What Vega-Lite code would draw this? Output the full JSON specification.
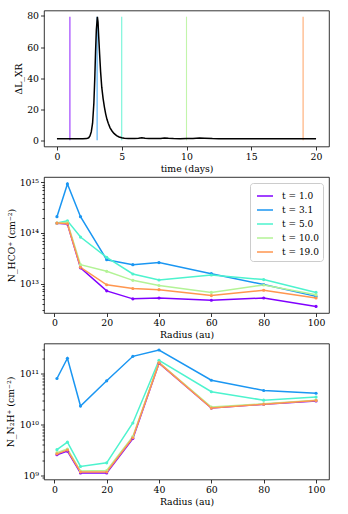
{
  "$schema": "https://vega.github.io/schema/vega-lite/v6.json",
  "background": "white",
  "padding": {"left": 5, "top": 9.5, "right": 0, "bottom": 0},
  "autosize": {"type": "pad"},
  "spacing": 30.5,
  "bounds": "flush",
  "resolve": {"legend": {"color": "independent"}},
  "config": {
    "font": "DejaVu Serif",
    "view": {"stroke": "black", "strokeWidth": 0.8},
    "style": {"guide-title": {"fontWeight": "normal", "font": "DejaVu Serif"}, "guide-label": {"font": "DejaVu Serif"}},
    "axis": {
      "labelFont": "DejaVu Serif", "titleFont": "DejaVu Serif",
      "labelFontSize": 9.3, "titleFontSize": 9.3, "titleFontWeight": "normal",
      "labelColor": "black", "titleColor": "black", "tickColor": "black",
      "domain": false, "grid": false, "tickSize": 3.5, "tickWidth": 0.8,
      "labelPadding": 2, "titlePadding": 3
    },
    "legend": {
      "labelFont": "DejaVu Serif", "labelColor": "black"
    }
  },
  "datasets": {
    "flares": [
      {"t": 1.0}, {"t": 3.1}, {"t": 5.0}, {"t": 10.0}, {"t": 19.0}
    ],
    "lc": [
      {"time": 0, "dL": 1.0}, {"time": 0.5, "dL": 1.0}, {"time": 1.0, "dL": 1.0}, {"time": 1.5, "dL": 1.0},
      {"time": 2.0, "dL": 1.0}, {"time": 2.3, "dL": 1.1}, {"time": 2.45, "dL": 1.6}, {"time": 2.55, "dL": 2.8},
      {"time": 2.65, "dL": 5.5}, {"time": 2.75, "dL": 11}, {"time": 2.85, "dL": 24}, {"time": 2.92, "dL": 40},
      {"time": 2.98, "dL": 57}, {"time": 3.04, "dL": 71}, {"time": 3.12, "dL": 79.5}, {"time": 3.17, "dL": 76},
      {"time": 3.22, "dL": 67}, {"time": 3.29, "dL": 56}, {"time": 3.37, "dL": 44}, {"time": 3.46, "dL": 34},
      {"time": 3.56, "dL": 27}, {"time": 3.66, "dL": 21.5}, {"time": 3.76, "dL": 17}, {"time": 3.86, "dL": 13.5},
      {"time": 3.96, "dL": 11}, {"time": 4.1, "dL": 8}, {"time": 4.25, "dL": 6}, {"time": 4.4, "dL": 4.4},
      {"time": 4.6, "dL": 3}, {"time": 4.8, "dL": 2.1}, {"time": 5.0, "dL": 1.6}, {"time": 5.2, "dL": 1.3},
      {"time": 5.5, "dL": 1.15}, {"time": 6.0, "dL": 1.15}, {"time": 6.3, "dL": 1.3}, {"time": 6.55, "dL": 1.7},
      {"time": 6.8, "dL": 1.35}, {"time": 7.1, "dL": 1.15}, {"time": 7.6, "dL": 1.1}, {"time": 8.0, "dL": 1.2},
      {"time": 8.3, "dL": 1.5}, {"time": 8.6, "dL": 1.25}, {"time": 9.0, "dL": 1.1}, {"time": 9.5, "dL": 1.05},
      {"time": 10.0, "dL": 1.1}, {"time": 10.5, "dL": 1.15}, {"time": 11.0, "dL": 1.45}, {"time": 11.4, "dL": 1.3},
      {"time": 12.0, "dL": 1.1}, {"time": 12.5, "dL": 1.05}, {"time": 13, "dL": 1.0}, {"time": 14, "dL": 1.05},
      {"time": 15, "dL": 1.0}, {"time": 16, "dL": 1.05}, {"time": 17, "dL": 1.0}, {"time": 18, "dL": 1.0},
      {"time": 19, "dL": 1.0}, {"time": 20, "dL": 1.0}
    ],
    "cd": [
      {"species": "HCO+", "t": 1.0, "R": 1, "N": 1.55e14}, {"species": "HCO+", "t": 1.0, "R": 5, "N": 1.5e14},
      {"species": "HCO+", "t": 1.0, "R": 10, "N": 2.05e13}, {"species": "HCO+", "t": 1.0, "R": 20, "N": 7.2e12},
      {"species": "HCO+", "t": 1.0, "R": 30, "N": 5.0e12}, {"species": "HCO+", "t": 1.0, "R": 40, "N": 5.2e12},
      {"species": "HCO+", "t": 1.0, "R": 60, "N": 4.7e12}, {"species": "HCO+", "t": 1.0, "R": 80, "N": 5.2e12},
      {"species": "HCO+", "t": 1.0, "R": 100, "N": 3.55e12},
      {"species": "HCO+", "t": 3.1, "R": 1, "N": 2.1e14}, {"species": "HCO+", "t": 3.1, "R": 5, "N": 9.3e14},
      {"species": "HCO+", "t": 3.1, "R": 10, "N": 2.1e14}, {"species": "HCO+", "t": 3.1, "R": 20, "N": 2.96e13},
      {"species": "HCO+", "t": 3.1, "R": 30, "N": 2.37e13}, {"species": "HCO+", "t": 3.1, "R": 40, "N": 2.6e13},
      {"species": "HCO+", "t": 3.1, "R": 60, "N": 1.57e13}, {"species": "HCO+", "t": 3.1, "R": 80, "N": 9.6e12},
      {"species": "HCO+", "t": 3.1, "R": 100, "N": 5.6e12},
      {"species": "HCO+", "t": 5.0, "R": 1, "N": 1.57e14}, {"species": "HCO+", "t": 5.0, "R": 5, "N": 1.74e14},
      {"species": "HCO+", "t": 5.0, "R": 10, "N": 8.3e13}, {"species": "HCO+", "t": 5.0, "R": 20, "N": 3.3e13},
      {"species": "HCO+", "t": 5.0, "R": 30, "N": 1.55e13}, {"species": "HCO+", "t": 5.0, "R": 40, "N": 1.18e13},
      {"species": "HCO+", "t": 5.0, "R": 60, "N": 1.48e13}, {"species": "HCO+", "t": 5.0, "R": 80, "N": 1.2e13},
      {"species": "HCO+", "t": 5.0, "R": 100, "N": 6.7e12},
      {"species": "HCO+", "t": 10.0, "R": 1, "N": 1.57e14}, {"species": "HCO+", "t": 10.0, "R": 5, "N": 1.6e14},
      {"species": "HCO+", "t": 10.0, "R": 10, "N": 2.37e13}, {"species": "HCO+", "t": 10.0, "R": 20, "N": 1.75e13},
      {"species": "HCO+", "t": 10.0, "R": 30, "N": 1.16e13}, {"species": "HCO+", "t": 10.0, "R": 40, "N": 9.2e12},
      {"species": "HCO+", "t": 10.0, "R": 60, "N": 6.7e12}, {"species": "HCO+", "t": 10.0, "R": 80, "N": 9.4e12},
      {"species": "HCO+", "t": 10.0, "R": 100, "N": 6.0e12},
      {"species": "HCO+", "t": 19.0, "R": 1, "N": 1.57e14}, {"species": "HCO+", "t": 19.0, "R": 5, "N": 1.52e14},
      {"species": "HCO+", "t": 19.0, "R": 10, "N": 2.1e13}, {"species": "HCO+", "t": 19.0, "R": 20, "N": 9.5e12},
      {"species": "HCO+", "t": 19.0, "R": 30, "N": 8.0e12}, {"species": "HCO+", "t": 19.0, "R": 40, "N": 7.6e12},
      {"species": "HCO+", "t": 19.0, "R": 60, "N": 5.8e12}, {"species": "HCO+", "t": 19.0, "R": 80, "N": 7.4e12},
      {"species": "HCO+", "t": 19.0, "R": 100, "N": 5.2e12},
      {"species": "N2H+", "t": 1.0, "R": 1, "N": 2.55e9}, {"species": "N2H+", "t": 1.0, "R": 5, "N": 3.0e9},
      {"species": "N2H+", "t": 1.0, "R": 10, "N": 1.12e9}, {"species": "N2H+", "t": 1.0, "R": 20, "N": 1.12e9},
      {"species": "N2H+", "t": 1.0, "R": 30, "N": 5.3e9}, {"species": "N2H+", "t": 1.0, "R": 40, "N": 1.6e11},
      {"species": "N2H+", "t": 1.0, "R": 60, "N": 2.1e10}, {"species": "N2H+", "t": 1.0, "R": 80, "N": 2.5e10},
      {"species": "N2H+", "t": 1.0, "R": 100, "N": 2.9e10},
      {"species": "N2H+", "t": 3.1, "R": 1, "N": 8.0e10}, {"species": "N2H+", "t": 3.1, "R": 5, "N": 2.0e11},
      {"species": "N2H+", "t": 3.1, "R": 10, "N": 2.3e10}, {"species": "N2H+", "t": 3.1, "R": 20, "N": 7.2e10},
      {"species": "N2H+", "t": 3.1, "R": 30, "N": 2.18e11}, {"species": "N2H+", "t": 3.1, "R": 40, "N": 2.9e11},
      {"species": "N2H+", "t": 3.1, "R": 60, "N": 7.4e10}, {"species": "N2H+", "t": 3.1, "R": 80, "N": 4.65e10},
      {"species": "N2H+", "t": 3.1, "R": 100, "N": 4.1e10},
      {"species": "N2H+", "t": 5.0, "R": 1, "N": 3.2e9}, {"species": "N2H+", "t": 5.0, "R": 5, "N": 4.5e9},
      {"species": "N2H+", "t": 5.0, "R": 10, "N": 1.5e9}, {"species": "N2H+", "t": 5.0, "R": 20, "N": 1.77e9},
      {"species": "N2H+", "t": 5.0, "R": 30, "N": 1.07e10}, {"species": "N2H+", "t": 5.0, "R": 40, "N": 1.82e11},
      {"species": "N2H+", "t": 5.0, "R": 60, "N": 4.4e10}, {"species": "N2H+", "t": 5.0, "R": 80, "N": 3.0e10},
      {"species": "N2H+", "t": 5.0, "R": 100, "N": 3.45e10},
      {"species": "N2H+", "t": 10.0, "R": 1, "N": 2.8e9}, {"species": "N2H+", "t": 10.0, "R": 5, "N": 3.3e9},
      {"species": "N2H+", "t": 10.0, "R": 10, "N": 1.22e9}, {"species": "N2H+", "t": 10.0, "R": 20, "N": 1.25e9},
      {"species": "N2H+", "t": 10.0, "R": 30, "N": 5.8e9}, {"species": "N2H+", "t": 10.0, "R": 40, "N": 1.65e11},
      {"species": "N2H+", "t": 10.0, "R": 60, "N": 2.2e10}, {"species": "N2H+", "t": 10.0, "R": 80, "N": 2.55e10},
      {"species": "N2H+", "t": 10.0, "R": 100, "N": 3.0e10},
      {"species": "N2H+", "t": 19.0, "R": 1, "N": 2.65e9}, {"species": "N2H+", "t": 19.0, "R": 5, "N": 3.15e9},
      {"species": "N2H+", "t": 19.0, "R": 10, "N": 1.17e9}, {"species": "N2H+", "t": 19.0, "R": 20, "N": 1.17e9},
      {"species": "N2H+", "t": 19.0, "R": 30, "N": 5.5e9}, {"species": "N2H+", "t": 19.0, "R": 40, "N": 1.62e11},
      {"species": "N2H+", "t": 19.0, "R": 60, "N": 2.1e10}, {"species": "N2H+", "t": 19.0, "R": 80, "N": 2.5e10},
      {"species": "N2H+", "t": 19.0, "R": 100, "N": 2.95e10}
    ]
  },
  "vconcat": [
    {
      "width": 285, "height": 136,
      "layer": [
        {
          "data": {"name": "flares"},
          "mark": {"type": "rule", "strokeWidth": 1.1, "opacity": 0.8},
          "encoding": {
            "x": {"field": "t", "type": "quantitative", "scale": {"domain": [-1, 21], "nice": false, "zero": false},
                  "axis": {"title": "time (days)", "values": [0, 5, 10, 15, 20]}},
            "y": {"datum": 0, "type": "quantitative", "scale": {"domain": [-4, 83.5], "nice": false, "zero": false},
                  "axis": {"title": "ΔL_XR", "values": [0, 20, 40, 60, 80], "titleX": -21, "titleY": 68}},
            "y2": {"datum": 79.5},
            "color": {"field": "t", "type": "nominal",
                      "scale": {"domain": [1, 3.1, 5, 10, 19], "range": ["#8000ff", "#1a96f2", "#4df3ce", "#b3f396", "#ff964f"]},
                      "legend": null}
          }
        },
        {
          "data": {"name": "lc"},
          "mark": {"type": "line", "color": "black", "strokeWidth": 1.5},
          "encoding": {
            "x": {"field": "time", "type": "quantitative", "axis": {"title": "time (days)", "values": [0, 5, 10, 15, 20]}},
            "y": {"field": "dL", "type": "quantitative", "axis": {"title": "ΔL_XR", "values": [0, 20, 40, 60, 80], "titleX": -21, "titleY": 68}}
          }
        }
      ]
    },
    {
      "width": 285, "height": 136,
      "data": {"name": "cd"},
      "transform": [{"filter": "datum.species == 'HCO+'"}],
      "mark": {"type": "line", "strokeWidth": 1.5, "point": {"size": 10, "filled": true}},
      "encoding": {
        "x": {"field": "R", "type": "quantitative", "scale": {"domain": [-3.95, 104.95], "nice": false, "zero": false},
              "axis": {"title": "Radius (au)", "values": [0, 20, 40, 60, 80, 100]}},
        "y": {"field": "N", "type": "quantitative",
              "scale": {"type": "log", "domain": [2.63e12, 1.274e15], "nice": false},
              "axis": {"title": "N_HCO⁺ (cm⁻²)", "titleX": -28, "titleY": 68, "labelOverlap": false,
                       "values": [3e12, 4e12, 5e12, 6e12, 7e12, 8e12, 9e12, 1e13, 2e13, 3e13, 4e13, 5e13, 6e13, 7e13, 8e13, 9e13, 1e14, 2e14, 3e14, 4e14, 5e14, 6e14, 7e14, 8e14, 9e14, 1e15],
                       "labelExpr": "datum.value == 1e15 ? '10¹⁵' : datum.value == 1e14 ? '10¹⁴' : datum.value == 1e13 ? '10¹³' : ''",
                       "tickSize": {"condition": {"test": "datum.value == 1e13 || datum.value == 1e14 || datum.value == 1e15", "value": 3.5}, "value": 2}}},
        "color": {"field": "t", "type": "nominal",
                  "scale": {"domain": [1, 3.1, 5, 10, 19], "range": ["#8000ff", "#1a96f2", "#4df3ce", "#b3f396", "#ff964f"]},
                  "legend": {"orient": "top-right", "offset": 6, "title": null, "fillColor": "white", "strokeColor": "#cccccc",
                             "cornerRadius": 3, "padding": 4, "symbolType": "stroke", "symbolSize": 256, "symbolStrokeWidth": 1.5,
                             "symbolOffset": 2, "labelFontSize": 9, "labelOffset": 8, "rowPadding": 0,
                             "labelExpr": "'t = ' + format(datum.value, '.1f')"}}
      }
    },
    {
      "width": 285, "height": 136,
      "data": {"name": "cd"},
      "transform": [{"filter": "datum.species == 'N2H+'"}],
      "mark": {"type": "line", "strokeWidth": 1.5, "point": {"size": 10, "filled": true}},
      "encoding": {
        "x": {"field": "R", "type": "quantitative", "scale": {"domain": [-3.95, 104.95], "nice": false, "zero": false},
              "axis": {"title": "Radius (au)", "values": [0, 20, 40, 60, 80, 100]}},
        "y": {"field": "N", "type": "quantitative",
              "scale": {"type": "log", "domain": [8.32e8, 3.89e11], "nice": false},
              "axis": {"title": "N_N₂H⁺ (cm⁻²)", "titleX": -29, "titleY": 68, "labelOverlap": false,
                       "values": [9e8, 1e9, 2e9, 3e9, 4e9, 5e9, 6e9, 7e9, 8e9, 9e9, 1e10, 2e10, 3e10, 4e10, 5e10, 6e10, 7e10, 8e10, 9e10, 1e11, 2e11, 3e11],
                       "labelExpr": "datum.value == 1e9 ? '10⁹' : datum.value == 1e10 ? '10¹⁰' : datum.value == 1e11 ? '10¹¹' : ''",
                       "tickSize": {"condition": {"test": "datum.value == 1e9 || datum.value == 1e10 || datum.value == 1e11", "value": 3.5}, "value": 2}}},
        "color": {"field": "t", "type": "nominal",
                  "scale": {"domain": [1, 3.1, 5, 10, 19], "range": ["#8000ff", "#1a96f2", "#4df3ce", "#b3f396", "#ff964f"]},
                  "legend": null}
      }
    }
  ]
}
